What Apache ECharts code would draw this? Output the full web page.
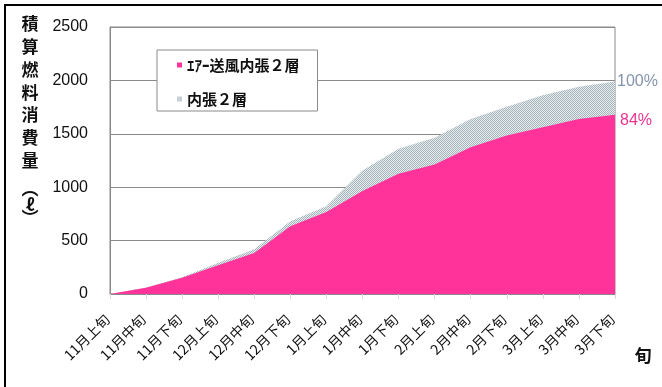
<!DOCTYPE html>
<html>
<head>
<meta charset="utf-8">
<style>
  html, body { margin: 0; padding: 0; background: #fff; }
  #chart { width: 662px; height: 387px; }
</style>
<script src="https://cdn.jsdelivr.net/npm/echarts@6/dist/echarts.min.js"></script>
</head>
<body>
<div id="chart"></div>
<script>
// Ten-day periods (旬) from November to March
const categories = [
  '11月上旬', '11月中旬', '11月下旬', '12月上旬', '12月中旬', '12月下旬',
  '1月上旬', '1月中旬', '1月下旬', '2月上旬', '2月中旬', '2月下旬',
  '3月上旬', '3月中旬', '3月下旬'
];
// Cumulative fuel consumption (ℓ)
const airBlowDouble = [0, 59, 152, 270, 385, 634, 768, 964, 1126, 1213, 1374, 1483, 1561, 1639, 1679];
const innerDouble   = [0, 62, 157, 292, 420, 681, 821, 1157, 1359, 1462, 1639, 1754, 1860, 1940, 1990];
const endLabels = ['84%', '100%'];
const seriesNames = ['ｴｱｰ送風内張２層', '内張２層'];
const yTicks = [0, 500, 1000, 1500, 2000, 2500];
const yTitleChars = ['積', '算', '燃', '料', '消', '費', '量', '︵', 'ℓ', '︶'];

// fine checker fill for the 内張２層 area
function checker() {
  const c = document.createElement('canvas');
  c.width = 2; c.height = 2;
  const g = c.getContext('2d');
  g.fillStyle = '#e6ebed'; g.fillRect(0, 0, 2, 2);
  g.fillStyle = '#a6b5bb'; g.fillRect(0, 0, 1, 1); g.fillRect(1, 1, 1, 1);
  return c;
}
const grayFill = { image: checker(), repeat: 'repeat' };
const pink = '#ff3399';
const numFont = 'Liberation Sans';

// vertical axis title, one glyph per line; the bracket forms sit closer together
const titleY = [24, 47, 70, 93, 115, 138, 161, 189, 205, 218];
const titleGraphics = yTitleChars.map((ch, i) => ({
  type: 'text', x: 30, y: titleY[i],
  style: {
    text: ch, font: 'bold 17px "Noto Sans CJK JP"', fill: '#111',
    align: 'center', verticalAlign: 'middle'
  },
  silent: true
}));

const chart = echarts.init(document.getElementById('chart'), null, { renderer: 'canvas' });
chart.setOption({
  animation: false,
  backgroundColor: '#fff',
  grid: {
    left: 110, right: 47, top: 27, bottom: 93,
    show: true, borderColor: '#8a8a8a', borderWidth: 1, backgroundColor: 'transparent'
  },
  legend: {
    orient: 'vertical',
    left: 157, top: 50,
    padding: [7, 18, 4, 20],
    itemGap: 18,
    itemWidth: 5, itemHeight: 5,
    icon: 'rect',
    backgroundColor: '#fff',
    borderColor: '#8a8a8a', borderWidth: 1, borderRadius: 0,
    data: seriesNames,
    textStyle: {
      fontFamily: 'Noto Sans CJK JP', fontWeight: 'bold', fontSize: 15,
      lineHeight: 16, color: '#111'
    }
  },
  xAxis: {
    type: 'category',
    data: categories,
    boundaryGap: false,
    axisLine: { show: true, lineStyle: { color: '#8a8a8a' } },
    axisTick: { show: true, length: 5, lineStyle: { color: '#d8d8d8' } },
    axisLabel: {
      rotate: 45, interval: 0, margin: 20, padding: [0, 4, 0, 0],
      fontFamily: 'Noto Sans CJK JP', fontSize: 14, color: '#111'
    },
    splitLine: { show: false }
  },
  yAxis: {
    type: 'value',
    min: yTicks[0], max: yTicks[yTicks.length - 1], interval: 500,
    axisLine: { show: true, lineStyle: { color: '#8a8a8a' } },
    axisTick: { show: false },
    axisLabel: {
      margin: 22, fontFamily: numFont, fontSize: 16, color: '#111',
      formatter: v => String(v)
    },
    splitLine: { show: true, lineStyle: { color: '#8a8a8a', width: 1 } }
  },
  series: [
    {
      name: seriesNames[1],
      type: 'line',
      data: innerDouble,
      symbol: 'none',
      lineStyle: { width: 0 },
      itemStyle: { color: grayFill },
      areaStyle: { color: grayFill, opacity: 1 },
      endLabel: {
        show: true, formatter: endLabels[1], color: '#8494ae',
        fontFamily: numFont, fontSize: 16, distance: 2, offset: [0, 0]
      },
      z: 2
    },
    {
      name: seriesNames[0],
      type: 'line',
      data: airBlowDouble,
      symbol: 'none',
      lineStyle: { width: 0 },
      itemStyle: { color: pink },
      areaStyle: { color: pink, opacity: 1 },
      endLabel: {
        show: true, formatter: endLabels[0], color: '#e8358f',
        fontFamily: numFont, fontSize: 16, distance: 5, offset: [0, 6]
      },
      z: 3
    }
  ],
  graphic: [
    // outer frame (top and left edges)
    { type: 'line', shape: { x1: 4, y1: 5, x2: 662, y2: 5 }, style: { stroke: '#000', lineWidth: 2 }, silent: true },
    { type: 'line', shape: { x1: 5, y1: 4, x2: 5, y2: 387 }, style: { stroke: '#000', lineWidth: 2 }, silent: true },
    ...titleGraphics,
    {
      type: 'text', x: 643, y: 356,
      style: {
        text: '旬', font: 'bold 17px "Noto Sans CJK JP"', fill: '#111',
        align: 'center', verticalAlign: 'middle'
      },
      silent: true
    }
  ]
});
</script>
</body>
</html>
